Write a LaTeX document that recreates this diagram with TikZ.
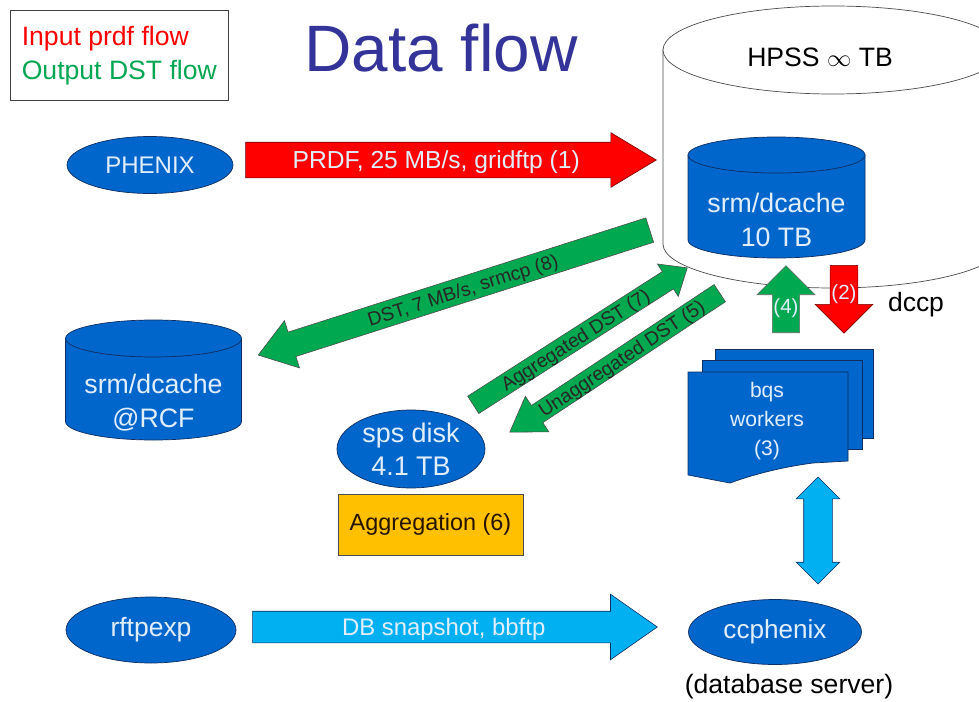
\documentclass[tikz,border=0pt]{standalone}
\usepackage{fontspec}
\setmainfont{Liberation Sans}
\usetikzlibrary{shapes,arrows,positioning,calc}
\definecolor{diskblue}{RGB}{0,102,204}
\definecolor{diskline}{RGB}{15,45,95}
\definecolor{disktext}{RGB}{225,238,252}
\definecolor{titleblue}{RGB}{51,51,153}
\definecolor{flowred}{RGB}{255,0,0}
\definecolor{flowgreen}{RGB}{0,168,80}
\definecolor{legendgreen}{RGB}{0,166,81}
\definecolor{snapblue}{RGB}{0,176,240}
\definecolor{aggorange}{RGB}{255,192,0}
\newdimen\pxu \pxu=0.03cm
\newcommand\blockarrow[4][]{%
  \path let \p1=($(#3)-(#2)$), \n1={veclen(\x1,\y1)} in
    (#2) -- (#3) node[fat, pos=0, anchor=tail, minimum height=\n1, #1] {#4};}
\newcommand\drawdrum[4][]{%
  \path[#1] ($(#2.north west)+(0,#4)$) -- ($(#2.south west)+(0,-#4)$)
    arc[start angle=180, end angle=360, x radius=#3\pxu, y radius=#4\pxu]
    -- ($(#2.north east)+(0,#4)$) -- cycle;
  \path[#1] ($(#2.north)+(0,#4)$) ellipse[x radius=#3\pxu, y radius=#4\pxu];}

\begin{document}
\begin{tikzpicture}[x=0.03cm, y=-0.03cm,
    disk/.style={ellipse, draw=diskline, fill=diskblue, text=disktext, inner sep=0pt, line width=0.6pt, align=center, font=\fontsize{22.7}{28}\selectfont},
    drumbody/.style={rectangle, inner sep=0pt, outer sep=0pt},
    store/.style={draw=diskline, fill=diskblue, line width=0.6pt},
    disklabel/.style={text=disktext, align=center, font=\fontsize{22.8}{29}\selectfont},
    sheet/.style={draw=diskline, fill=diskblue, line width=0.6pt},
    fat/.style={single arrow, draw=black!60, line width=0.5pt, inner sep=0pt, single arrow head indent=0pt}
]
    \useasboundingbox (0,0) rectangle (979,702);
    \clip (0,0) rectangle (979,702);

    \node[draw=black!75, line width=0.6pt, anchor=north west, minimum width=218\pxu, minimum height=90\pxu, align=left, font=\fontsize{22.7}{29}\selectfont] (legend) at (10,10)
        {\textcolor{flowred}{Input prdf flow}\\\textcolor{legendgreen}{Output DST flow}};
    \node[text=titleblue, font=\fontsize{56}{60}\selectfont] (title) at (441,48) {Data flow};

    \node[drumbody, minimum width=340\pxu, minimum height=282\pxu] (hpss) at (833,147) {};
    \drawdrum[store, fill=white, draw=black!70]{hpss}{170}{44}
    \node[font=\fontsize{22.7}{28}\selectfont] (hpsslabel) at (820,57) {HPSS $\infty$ TB};
    \node[drumbody, minimum width=177\pxu, minimum height=121\pxu] (srm) at (776.5,197.5) {};
    \drawdrum[store]{srm}{88.5}{18}
    \node[disklabel] (srmlabel) at (776.5,220) {srm/dcache\\10 TB};

    \node[drumbody, minimum width=176\pxu, minimum height=120\pxu] (rcf) at (153.5,380) {};
    \drawdrum[store]{rcf}{88}{18.5}
    \node[disklabel] (rcflabel) at (153.5,402.5) {srm/dcache\\@RCF};

    \node[disk, minimum width=166\pxu, minimum height=57\pxu, font=\fontsize{20.5}{24}\selectfont] (phenix) at (150,165) {PHENIX};
    \node[disk, minimum width=148\pxu, minimum height=78\pxu, font=\fontsize{23}{28}\selectfont] (sps) at (411,449) {sps disk\\4.1 TB};
    \node[draw=black!70, fill=aggorange, line width=0.6pt, minimum width=185\pxu, minimum height=61\pxu, text=black!85!orange, font=\fontsize{20}{24}\selectfont] (agg) at (430.5,524.5) {Aggregation (6)};
    \node[disk, minimum width=170\pxu, minimum height=66\pxu, font=\fontsize{22.6}{26}\selectfont] (rftp) at (151,630) {rftpexp};
    \node[disk, minimum width=173\pxu, minimum height=65\pxu, font=\fontsize{22.3}{26}\selectfont] (ccphenix) at (775,632) {ccphenix};
    \node[font=\fontsize{22.7}{26}\selectfont] (dbserver) at (789,687) {(database server)};

    \node[sheet, minimum width=158\pxu, minimum height=89\pxu] (sheetback) at (794,393.5) {};
    \node[sheet, minimum width=160\pxu, minimum height=89\pxu] (sheetmid) at (782,404.5) {};
    \draw[sheet] (688,372) -- (848,372) -- (848,461) -- (813,463)
        .. controls (790,466) and (760,472) .. (730,483) -- (688,475) -- cycle;
    \node[text=disktext, align=center, font=\fontsize{18}{24.8}\selectfont] (bqs) at (767,421) {bqs\\workers\\(3)};
    \node[font=\fontsize{22.6}{26}\selectfont] (dccp) at (916,305) {dccp};

    \coordinate (prdf-a) at ($(phenix.east)+(12,-5)$);
    \coordinate (prdf-b) at (656,160);
    \coordinate (dst-a) at (650,230);
    \coordinate (dst-b) at ($(rcf.east)+(17,-25)$);
    \coordinate (agg-a) at (473,405);
    \coordinate (agg-b) at (687,268);
    \coordinate (unagg-a) at (720,293);
    \coordinate (unagg-b) at (510,432);
    \coordinate (up-a) at (786,333);
    \coordinate (up-b) at (786,266);
    \coordinate (down-a) at (844,265);
    \coordinate (down-b) at (844,333);
    \coordinate (snap-a) at ($(rftp.east)+(16,-3)$);
    \coordinate (snap-b) at (657,627);
    \coordinate (link-a) at (818,477);
    \coordinate (link-b) at (818,584);

    \blockarrow[fill=flowred, draw=red!45!black, text=disktext, text height=26.4\pxu, text depth=8.6\pxu, minimum width=54\pxu, single arrow head extend=9.5\pxu, single arrow tip angle=62, font=\fontsize{21}{25}\selectfont]{prdf-a}{prdf-b}{PRDF, 25 MB/s, gridftp (1)}
    \blockarrow[sloped, shape border rotate=180, fill=flowgreen, draw=black!70, text=black!85, text height=19.4\pxu, text depth=5.6\pxu, minimum width=49\pxu, single arrow head extend=12\pxu, single arrow tip angle=70, font=\fontsize{16.4}{20}\selectfont]{dst-a}{dst-b}{DST, 7 MB/s, srmcp (8)}
    \blockarrow[sloped, fill=flowgreen, draw=black!70, text=black!85, text height=16.9\pxu, text depth=3.1\pxu, minimum width=38\pxu, single arrow head extend=9\pxu, single arrow tip angle=80, font=\fontsize{16.4}{20}\selectfont]{agg-a}{agg-b}{Aggregated DST (7)}
    \blockarrow[sloped, shape border rotate=180, fill=flowgreen, draw=black!70, text=black!85, text height=16.9\pxu, text depth=3.1\pxu, minimum width=42\pxu, single arrow head extend=11\pxu, single arrow tip angle=66, font=\fontsize{16.4}{20}\selectfont]{unagg-a}{unagg-b}{Unaggregated DST (5)}
    \blockarrow[shape border rotate=90, fill=flowgreen, draw=black!60, text=disktext, text height=21.9\pxu, text depth=7.1\pxu, minimum width=58\pxu, single arrow head extend=14.5\pxu, single arrow tip angle=90, font=\fontsize{17.5}{20}\selectfont]{up-a}{up-b}{(4)}
    \blockarrow[shape border rotate=270, fill=flowred, draw=red!45!black, text=disktext, text height=22.4\pxu, text depth=7.6\pxu, minimum width=58\pxu, single arrow head extend=14\pxu, single arrow tip angle=90, font=\fontsize{17.5}{20}\selectfont]{down-a}{down-b}{(2)}
    \blockarrow[fill=snapblue, draw=diskline, text=disktext, text height=24.1\pxu, text depth=6.9\pxu, minimum width=65\pxu, single arrow head extend=17\pxu, single arrow tip angle=70, font=\fontsize{20.4}{24}\selectfont]{snap-a}{snap-b}{DB snapshot, bbftp}
    \blockarrow[double arrow, pos=0.5, anchor=center, shape border rotate=90, fill=snapblue, draw=diskline, inner xsep=14\pxu, inner ysep=14\pxu, minimum width=43\pxu, double arrow head extend=7.5\pxu, double arrow tip angle=90]{link-a}{link-b}{}
\end{tikzpicture}
\end{document}
